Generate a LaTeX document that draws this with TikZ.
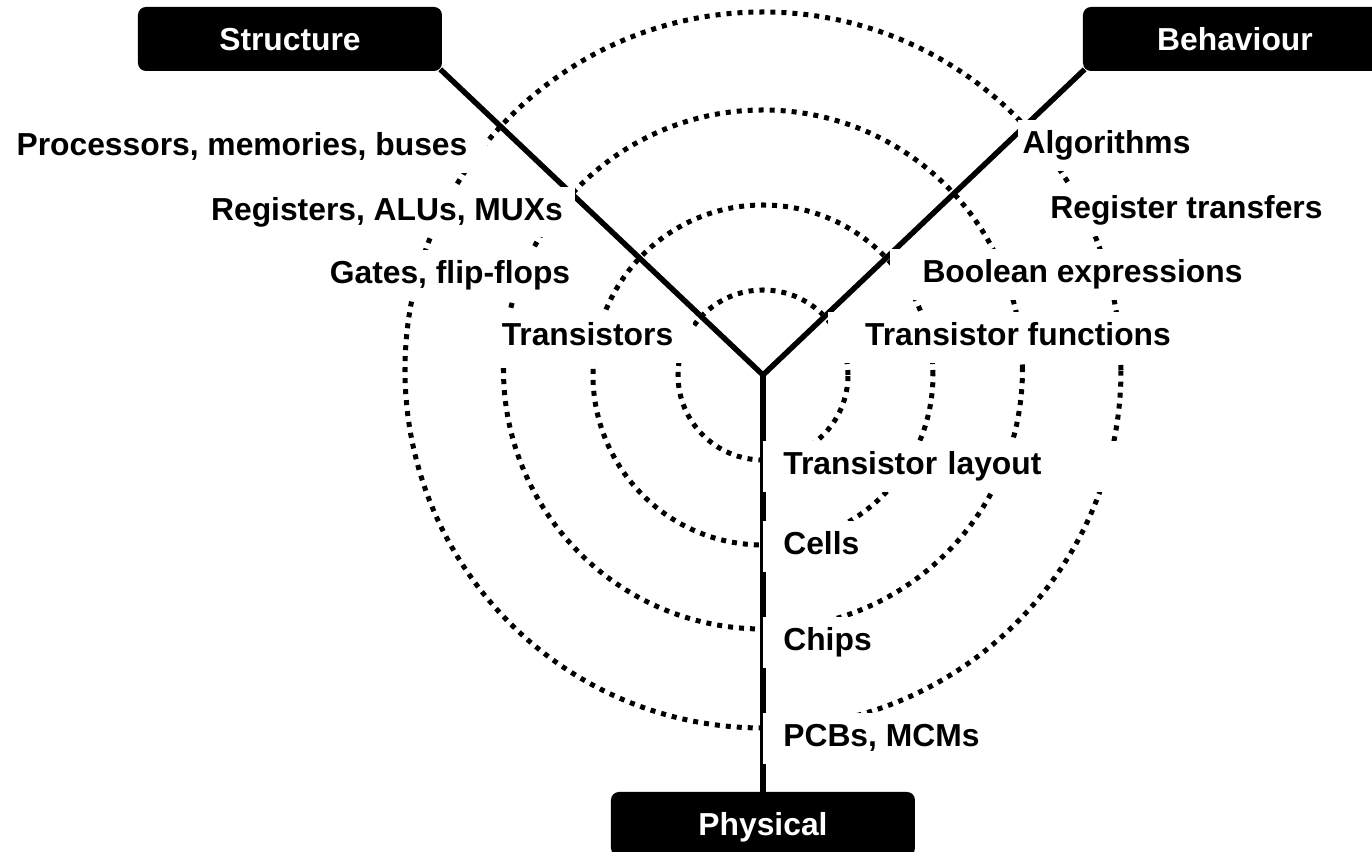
\documentclass[tikz,border=0pt]{standalone}
\usepackage{fontspec}
\setmainfont{Liberation Sans}
\newcommand\chartfont{\fontsize{18.1}{22}\selectfont\bfseries}
\begin{document}
\begin{tikzpicture}[
  domainbox/.style={fill=black, text=white, rounded corners=0.16cm, minimum width=6.08cm, minimum height=1.28cm, text height=0.46cm, text depth=0pt, font=\chartfont},
  tier/.style={fill=white, inner xsep=0.4cm, inner ysep=0.2cm, text height=0.47cm, text depth=0.14cm, font=\chartfont},
  arm/.style={line width=3.1pt},
  ring/.style={line width=2.85pt, dash pattern=on 0.1cm off 0.12cm}
]
\useasboundingbox (-15.26,-9.54) rectangle (12.18,7.5);
\fill[white] (-15.26,-9.54) rectangle (12.18,7.5);
\clip (-15.26,-9.54) rectangle (12.18,7.5);

\coordinate (hub) at (0,0);

% Abstraction rings
\draw[ring] (hub) circle (1.7);
\draw[ring] (hub) circle (3.4);
\draw[ring] (0,0.11) circle (5.19);
\draw[ring] (0,0.1) circle (7.16);

% Domains
\node[domainbox] (structure) at (-9.46,6.72) {Structure};
\node[domainbox] (behaviour) at (9.44,6.72) {Behaviour};
\node[domainbox] (physical) at (0,-8.98) {Physical};

% Axes of the Y
\draw[arm] ([shift={(-0.04,0.04)}]structure.south east) -- (hub) -- ([shift={(0.04,0.04)}]behaviour.south west);
\draw[arm] (hub) -- (physical.north);

% Structural levels
\node[tier, anchor=base] (procs) at (-10.42,4.38) {Processors, memories, buses};
\node[tier, anchor=base, inner xsep=0.25cm] (regs) at (-7.52,3.09) {Registers, ALUs, MUXs};
\node[tier, anchor=base] (gates) at (-6.26,1.82) {Gates, flip-flops};
\node[tier, anchor=base] (trans) at (-3.51,0.58) {Transistors};

% Behavioural levels
\node[tier, anchor=base, inner xsep=0.1cm] (algo) at (6.87,4.42) {Algorithms};
\node[tier, anchor=base] (rtl) at (8.47,3.12) {Register transfers};
\node[tier, anchor=base, inner xsep=0.65cm] (bool) at (6.39,1.84) {Boolean expressions};
\node[tier, anchor=base, inner xsep=0.75cm] (tfun) at (5.1,0.58) {Transistor functions};

% Physical levels
\node[tier, anchor=base west, text width=6.3cm, align=left] (layout) at (0,-2.0) {Transistor layout};
\node[tier, anchor=base west] (cells) at (0,-3.6) {Cells};
\node[tier, anchor=base west] (chips) at (0,-5.52) {Chips};
\node[tier, anchor=base west] (boards) at (0,-7.44) {PCBs, MCMs};
\end{tikzpicture}
\end{document}
